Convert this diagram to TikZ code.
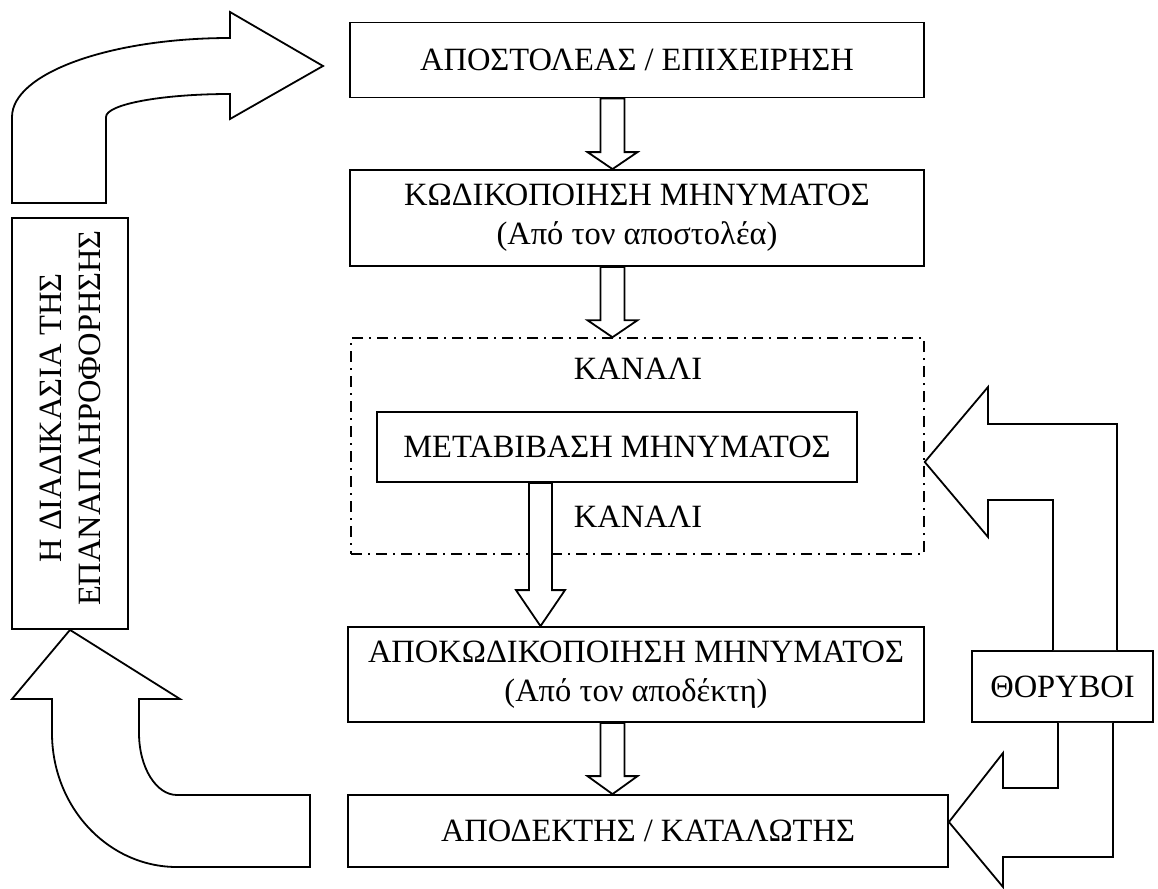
\documentclass[tikz,border=0pt]{standalone}
\usepackage{fontspec}
\setmainfont{Liberation Serif}
\begin{document}
\begin{tikzpicture}[x=1pt,y=-1pt,
  box/.style={draw,line width=1.8pt,rectangle,inner sep=0pt,align=center,font=\fontsize{32.5}{39}\selectfont},
  chanbox/.style={draw,line width=1.5pt,rectangle,inner sep=0pt,dash pattern=on 11pt off 6pt on 2pt off 6pt},
  txt/.style={inner sep=0pt,align=center,font=\fontsize{32.5}{39}\selectfont},
  shapeline/.style={draw,line width=1.8pt,fill=white,line join=miter}]
\useasboundingbox (0,0) rectangle (1158,888);
\newcommand\dnarrow[6]{% x, from, to, shaft half, head half, head length
  \draw[shapeline] (#1-#4,0 |- #2) -- ([yshift=#6pt]#1-#4,0 |- #3) -- ([yshift=#6pt]#1-#5,0 |- #3) -- (#1,0 |- #3) -- ([yshift=#6pt]#1+#5,0 |- #3) -- ([yshift=#6pt]#1+#4,0 |- #3) -- (#1+#4,0 |- #2) -- cycle;}

% main column
\node[box,minimum width=574pt,minimum height=75pt] (b1) at (637,60) {ΑΠΟΣΤΟΛΕΑΣ / ΕΠΙΧΕΙΡΗΣΗ};
\node[box,minimum width=574pt,minimum height=96pt] (b2) at (637,218) {ΚΩΔΙΚΟΠΟΙΗΣΗ ΜΗΝΥΜΑΤΟΣ\\(Από τον αποστολέα)};
\node[chanbox,minimum width=573pt,minimum height=216pt] (ch) at (637.5,446) {};
\node[txt] (k1) at (638,369) {ΚΑΝΑΛΙ};
\node[box,minimum width=480pt,minimum height=70pt] (b3) at (617,447) {ΜΕΤΑΒΙΒΑΣΗ ΜΗΝΥΜΑΤΟΣ};
\node[txt] (k2) at (638,517) {ΚΑΝΑΛΙ};
\node[box,minimum width=576pt,minimum height=95pt] (b4) at (636,674.5) {ΑΠΟΚΩΔΙΚΟΠΟΙΗΣΗ ΜΗΝΥΜΑΤΟΣ\\(Από τον αποδέκτη)};
\node[box,minimum width=600pt,minimum height=72pt] (b5) at (648,831) {ΑΠΟΔΕΚΤΗΣ / ΚΑΤΑΛΩΤΗΣ};
\node[box,minimum width=181pt,minimum height=71pt] (th) at (1062.5,686.5) {ΘΟΡΥΒΟΙ};
\node[box,minimum width=116pt,minimum height=411pt] (fb) at (70,423.5) {};
\node[txt,rotate=90] (fbt) at (70,418) {Η ΔΙΑΔΙΚΑΣΙΑ ΤΗΣ\\ΕΠΑΝΑΠΛΗΡΟΦΟΡΗΣΗΣ};

% block arrows down
\dnarrow{612.5}{b1.south}{b2.north}{12}{25}{17}
\dnarrow{612.5}{b2.south}{ch.north}{12}{25}{17}
\dnarrow{540.5}{b3.south}{b4.north}{11.5}{24.5}{36}
\dnarrow{612.5}{b4.south}{b5.north}{12}{25}{18}

% noise arrows
\draw[shapeline] (1053,0 |- th.north) -- (1053,500) -- (988,500) -- (988,537) -- (ch.east |- 0,462) -- (988,387) -- (988,424) -- (1117,424) -- (1117,0 |- th.north);
\draw[shapeline] (1058,0 |- th.south) -- (1058,788) -- (1003,788) -- (1003,753) -- (b5.east |- 0,822) -- (1003,887) -- (1003,857) -- (1113,857) -- (1113,0 |- th.south);

% feedback arrows
\draw[shapeline] (12,203) -- (12,117) .. controls (12,73.4) and (109.6,38) .. (230,38) -- (230,12) -- (323,66) -- (230,119) -- (230,94) .. controls (161.5,94) and (106,104.3) .. (106,117) -- (106,203) -- cycle;
\draw[shapeline] (310,795) -- (177,795) .. controls (156,795) and (139,767.2) .. (139,733) -- (139,699) -- (180,699) -- (fb.south) -- (12,699) -- (52,699) -- (52,733) .. controls (52,807) and (108,867) .. (177,867) -- (310,867) -- cycle;
\end{tikzpicture}
\end{document}
